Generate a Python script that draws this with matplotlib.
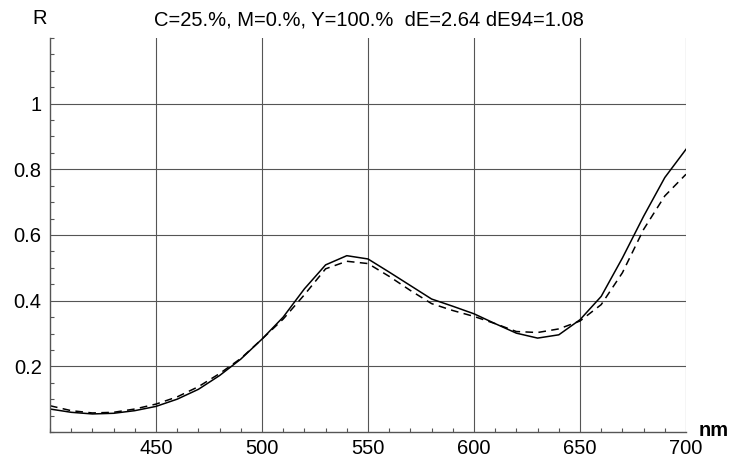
import matplotlib

matplotlib.use("Agg")
import matplotlib.pyplot as plt
import numpy as np
from matplotlib.ticker import MultipleLocator

wavelength = np.arange(400, 701, 10)
measured = [
    0.070, 0.060, 0.055, 0.057, 0.065, 0.078, 0.100, 0.130, 0.172, 0.222, 0.283,
    0.350, 0.436, 0.509, 0.537, 0.527, 0.487, 0.446, 0.405, 0.383, 0.360,
    0.330, 0.301, 0.286, 0.296, 0.342, 0.413, 0.530, 0.657, 0.775, 0.861,
]
predicted = [
    0.080, 0.065, 0.058, 0.060, 0.070, 0.085, 0.107, 0.138, 0.178, 0.224, 0.283,
    0.344, 0.418, 0.497, 0.520, 0.513, 0.474, 0.431, 0.391, 0.370, 0.352,
    0.330, 0.306, 0.303, 0.314, 0.338, 0.388, 0.485, 0.617, 0.719, 0.785,
]
x_ticks = [450, 500, 550, 600, 650, 700]
y_ticks = [0.2, 0.4, 0.6, 0.8, 1.0]
y_labels = ["0.2", "0.4", "0.6", "0.8", "1"]
title = "C=25.%, M=0.%, Y=100.%  dE=2.64 dE94=1.08"

plt.rcParams["font.family"] = ["Liberation Sans", "DejaVu Sans"]

fig = plt.figure(figsize=(7.33, 4.62), dpi=100)
ax = fig.add_axes([50 / 733, 1 - 432 / 462, 636 / 733, 394 / 462])

ax.plot(wavelength, measured, color="black", linewidth=1.1)
ax.plot(wavelength, predicted, color="black", linewidth=1.1,
        linestyle=(0, (5, 3.5)))

ax.set_xlim(400, 700)
ax.set_ylim(0, 1.2)
ax.set_xticks(x_ticks)
ax.set_yticks(y_ticks, y_labels)
ax.xaxis.set_minor_locator(MultipleLocator(10))
ax.yaxis.set_minor_locator(MultipleLocator(0.05))
ax.tick_params(which="both", direction="in", colors="#555555",
               labelcolor="black", labelsize=14.5)
ax.tick_params(axis="x", which="major", length=0, pad=5)
ax.tick_params(axis="y", which="major", length=0, pad=6)
ax.tick_params(which="minor", length=3, width=0.8)
ax.grid(True, which="major", color="#555555", linewidth=0.8)

for side in ("top", "right"):
    ax.spines[side].set_visible(False)
for side in ("left", "bottom"):
    ax.spines[side].set_color("#555555")
    ax.spines[side].set_linewidth(1.0)

fig.text(369 / 733, 1 - 20 / 462, title, fontsize=14.5, ha="center", va="center")
fig.text(40 / 733, 1 - 18 / 462, "R", fontsize=14.5, ha="center", va="center")
fig.text(699 / 733, 1 - 431 / 462, "nm", fontsize=14.5, fontweight="bold",
         ha="left", va="center")

fig.savefig("out.png", dpi=100)
